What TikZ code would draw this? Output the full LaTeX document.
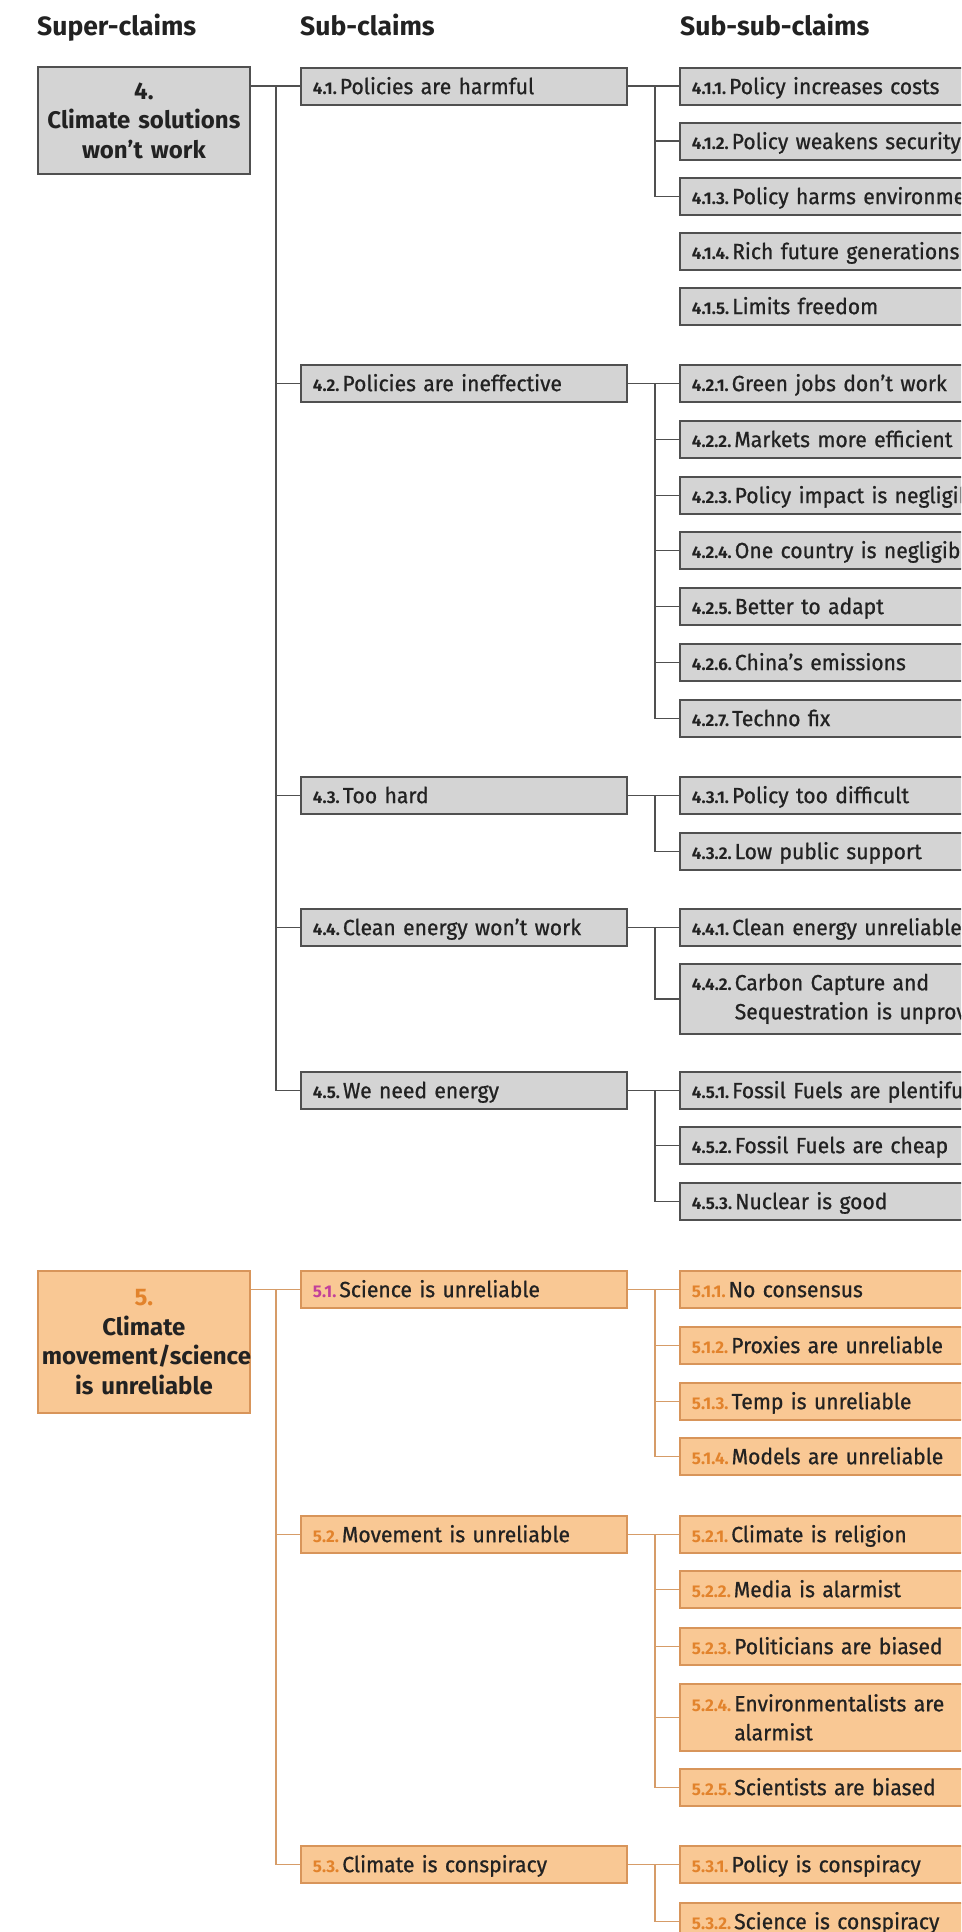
\documentclass[tikz,border=0pt]{standalone}
\usepackage{fontspec}
\setmainfont{Fira Sans}
\newfontfamily\boxfont{Fira Sans}[FakeBold=0.8,FakeStretch=0.96]
\definecolor{gfl}{HTML}{D4D4D4}
\definecolor{gbd}{HTML}{505050}
\definecolor{gln}{HTML}{505050}
\definecolor{ofl}{HTML}{F9C894}
\definecolor{obd}{HTML}{D8955A}
\definecolor{oln}{HTML}{D69C68}
\definecolor{onum}{HTML}{E2832C}
\definecolor{mnum}{HTML}{C2409A}
\definecolor{txt}{HTML}{222222}
\newcommand\nlbl[2][txt]{{\color{#1}\normalfont\bfseries\fontsize{17}{17}\selectfont #2}\hspace{3pt}}
\begin{document}
\begin{tikzpicture}[x=1pt,y=-1pt,
  hdr/.style={anchor=base west, inner sep=0pt, font=\bfseries\fontsize{26.5}{30}\selectfont, text=txt},
  box/.style={rectangle, anchor=north west, inner xsep=12pt, inner ysep=0pt, line width=1.8pt, align=left, font=\boxfont\fontsize{22}{29}\selectfont, text=txt},
  one/.style={text height=15.5pt, text depth=0pt, minimum height=37pt},
  gsub/.style={box, one, draw=gbd, fill=gfl, text width=302pt},
  gss/.style={box, one, draw=gbd, fill=gfl, text width=600pt},
  gsstwo/.style={box, draw=gbd, fill=gfl, text width=600pt, minimum height=#1},
  osub/.style={box, one, draw=obd, fill=ofl, text width=302pt},
  oss/.style={box, one, draw=obd, fill=ofl, text width=600pt},
  osstwo/.style={box, draw=obd, fill=ofl, text width=600pt, minimum height=#1},
  supbox/.style={rectangle, anchor=north west, line width=1.8pt, minimum width=212pt, text width=204pt, inner xsep=4pt, align=center, font=\bfseries\fontsize{24}{29.5}\selectfont, text=txt},
  gline/.style={draw=gln, line width=1.8pt},
  oline/.style={draw=oln, line width=1.8pt}]
\useasboundingbox (0,0) rectangle (961,1932);
\fill[white] (0,0) rectangle (961,1932);
\clip (0,0) rectangle (961,1932);

% headers
\node[hdr] (h1) at (37,36) {Super-claims};
\node[hdr] (h2) at (300,36) {Sub-claims};
\node[hdr] (h3) at (680,36) {Sub-sub-claims};

% ---------- grey section ----------
\node[supbox, draw=gbd, fill=gfl, minimum height=107pt] (sup4) at (37,66) {4.\\Climate solutions\\won’t work};

\node[gsub] (s41) at (300,67) {\nlbl{4.1.}Policies are harmful};
\node[gsub] (s42) at (300,364) {\nlbl{4.2.}Policies are ineffective};
\node[gsub] (s43) at (300,776) {\nlbl{4.3.}Too hard};
\node[gsub] (s44) at (300,908) {\nlbl{4.4.}Clean energy won’t work};
\node[gsub] (s45) at (300,1071) {\nlbl{4.5.}We need energy};

\node[gss] (ss411) at (679,67) {\nlbl{4.1.1.}Policy increases costs};
\node[gss] (ss412) at (679,122) {\nlbl{4.1.2.}Policy weakens security};
\node[gss] (ss413) at (679,177) {\nlbl{4.1.3.}Policy harms environment};
\node[gss] (ss414) at (679,232) {\nlbl{4.1.4.}Rich future generations};
\node[gss] (ss415) at (679,287) {\nlbl{4.1.5.}Limits freedom};

\node[gss] (ss421) at (679,364) {\nlbl{4.2.1.}Green jobs don’t work};
\node[gss] (ss422) at (679,420) {\nlbl{4.2.2.}Markets more efficient};
\node[gss] (ss423) at (679,476) {\nlbl{4.2.3.}Policy impact is negligible};
\node[gss] (ss424) at (679,531) {\nlbl{4.2.4.}One country is negligible};
\node[gss] (ss425) at (679,587) {\nlbl{4.2.5.}Better to adapt};
\node[gss] (ss426) at (679,643) {\nlbl{4.2.6.}China’s emissions};
\node[gss] (ss427) at (679,699) {\nlbl{4.2.7.}Techno fix};

\node[gss] (ss431) at (679,776) {\nlbl{4.3.1.}Policy too difficult};
\node[gss] (ss432) at (679,832) {\nlbl{4.3.2.}Low public support};

\node[gss] (ss441) at (679,908) {\nlbl{4.4.1.}Clean energy unreliable};
\node[gsstwo=70pt] (ss442) at (679,963) {\nlbl{4.4.2.}Carbon Capture and\\\hphantom{\nlbl{4.4.2.}}Sequestration is unproven};

\node[gss] (ss451) at (679,1071) {\nlbl{4.5.1.}Fossil Fuels are plentiful};
\node[gss] (ss452) at (679,1126) {\nlbl{4.5.2.}Fossil Fuels are cheap};
\node[gss] (ss453) at (679,1182) {\nlbl{4.5.3.}Nuclear is good};

% grey connectors
\path (s41.west -| sup4.east) ++(25,0) coordinate (t4);
\draw[gline] (s41.west -| sup4.east) -- (s41.west);
\foreach \c in {s42,s43,s44,s45} \draw[gline] (t4) |- (\c.west);

\draw[gline] (s41.east) -- (ss411.west);
\foreach \c in {ss412,ss413} \draw[gline] ([xshift=27pt]s41.east) |- (\c.west);
\draw[gline] (s42.east) -- (ss421.west);
\foreach \c in {ss422,ss423,ss424,ss425,ss426,ss427} \draw[gline] ([xshift=27pt]s42.east) |- (\c.west);
\draw[gline] (s43.east) -- (ss431.west);
\draw[gline] ([xshift=27pt]s43.east) |- (ss432.west);
\draw[gline] (s44.east) -- (ss441.west);
\draw[gline] ([xshift=27pt]s44.east) |- (ss442.west);
\draw[gline] (s45.east) -- (ss451.west);
\foreach \c in {ss452,ss453} \draw[gline] ([xshift=27pt]s45.east) |- (\c.west);

% ---------- orange section ----------
\node[supbox, draw=obd, fill=ofl, minimum height=142pt] (sup5) at (37,1270) {{\color{onum}5.}\\Climate\\movement/science\\is unreliable};

\node[osub] (s51) at (300,1270) {\nlbl[mnum]{5.1.}Science is unreliable};
\node[osub] (s52) at (300,1515) {\nlbl[onum]{5.2.}Movement is unreliable};
\node[osub] (s53) at (300,1845) {\nlbl[onum]{5.3.}Climate is conspiracy};

\node[oss] (ss511) at (679,1270) {\nlbl[onum]{5.1.1.}No consensus};
\node[oss] (ss512) at (679,1326) {\nlbl[onum]{5.1.2.}Proxies are unreliable};
\node[oss] (ss513) at (679,1382) {\nlbl[onum]{5.1.3.}Temp is unreliable};
\node[oss] (ss514) at (679,1437) {\nlbl[onum]{5.1.4.}Models are unreliable};

\node[oss] (ss521) at (679,1515) {\nlbl[onum]{5.2.1.}Climate is religion};
\node[oss] (ss522) at (679,1570) {\nlbl[onum]{5.2.2.}Media is alarmist};
\node[oss] (ss523) at (679,1627) {\nlbl[onum]{5.2.3.}Politicians are biased};
\node[osstwo=67pt] (ss524) at (679,1683) {\nlbl[onum]{5.2.4.}Environmentalists are\\\hphantom{\nlbl{5.2.4.}}alarmist};
\node[oss] (ss525) at (679,1768) {\nlbl[onum]{5.2.5.}Scientists are biased};

\node[oss] (ss531) at (679,1845) {\nlbl[onum]{5.3.1.}Policy is conspiracy};
\node[oss] (ss532) at (679,1902) {\nlbl[onum]{5.3.2.}Science is conspiracy};

% orange connectors
\path (s51.west -| sup5.east) ++(25,0) coordinate (t5);
\draw[oline] (s51.west -| sup5.east) -- (s51.west);
\foreach \c in {s52,s53} \draw[oline] (t5) |- (\c.west);

\draw[oline] (s51.east) -- (ss511.west);
\foreach \c in {ss512,ss513,ss514} \draw[oline] ([xshift=27pt]s51.east) |- (\c.west);
\draw[oline] (s52.east) -- (ss521.west);
\foreach \c in {ss522,ss523,ss524,ss525} \draw[oline] ([xshift=27pt]s52.east) |- (\c.west);
\draw[oline] (s53.east) -- (ss531.west);
\draw[oline] ([xshift=27pt]s53.east) |- (ss532.west);
\end{tikzpicture}
\end{document}
